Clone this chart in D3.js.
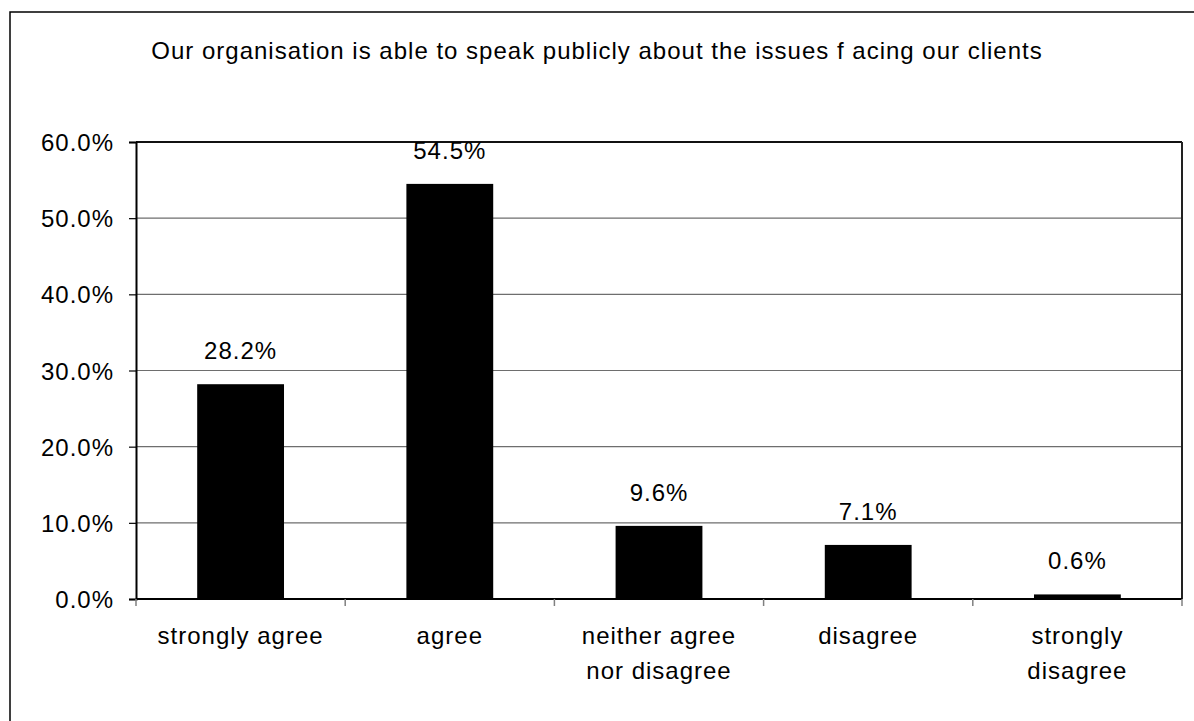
<!DOCTYPE html>
<html>
<head>
<meta charset="utf-8">
<script src="https://cdn.jsdelivr.net/npm/d3@7"></script>
<style>
  html, body { margin: 0; padding: 0; background: #fff; }
  svg { display: block; font-family: "Liberation Sans", Arial, sans-serif; }
  svg text { letter-spacing: 1px; }
</style>
</head>
<body>
<svg id="chart" width="1194" height="721"></svg>
<script>
const title = "Our organisation is able to speak publicly about the issues f acing our clients";
const categories = ["strongly agree", "agree", "neither agree nor disagree", "disagree", "strongly disagree"];
const categoryLines = [["strongly agree"], ["agree"], ["neither agree", "nor disagree"], ["disagree"], ["strongly", "disagree"]];
const values = [28.2, 54.5, 9.6, 7.1, 0.6];
const valueLabels = ["28.2%", "54.5%", "9.6%", "7.1%", "0.6%"];
const yTicks = [0, 10, 20, 30, 40, 50, 60];

const svg = d3.select("#chart");
const fs = 24;
const plot = { left: 136, right: 1182, top: 142, bottom: 599 };

// outer frame
svg.append("rect").attr("x", 10).attr("y", 12).attr("width", 1200).attr("height", 720)
  .attr("fill", "none").attr("stroke", "#000").attr("stroke-width", 1.5);

// title
svg.append("text").attr("x", 597).attr("y", 59).attr("text-anchor", "middle")
  .attr("font-size", fs).attr("fill", "#000").text(title);

const x = d3.scaleBand().domain(categories).range([plot.left, plot.right]).paddingInner(0.585).paddingOuter(0.2925);
const xCat = d3.scaleBand().domain(categories).range([plot.left, plot.right]);
const y = d3.scaleLinear().domain([0, 60]).range([plot.bottom, plot.top]);

// gridlines
svg.append("g").selectAll("line").data(yTicks.filter(d => d > 0 && d < 60)).join("line")
  .attr("x1", plot.left).attr("x2", plot.right)
  .attr("y1", d => y(d)).attr("y2", d => y(d))
  .attr("stroke", "#6e6e6e").attr("stroke-width", 1.2);

// plot border top and right
svg.append("line").attr("x1", plot.left).attr("x2", plot.right).attr("y1", plot.top).attr("y2", plot.top)
  .attr("stroke", "#111").attr("stroke-width", 2);
svg.append("line").attr("x1", plot.right).attr("x2", plot.right).attr("y1", plot.top).attr("y2", plot.bottom)
  .attr("stroke", "#222").attr("stroke-width", 2);

// bars
svg.append("g").selectAll("rect").data(values).join("rect")
  .attr("x", (d, i) => x(categories[i]))
  .attr("width", x.bandwidth())
  .attr("y", d => y(d))
  .attr("height", d => y(0) - y(d))
  .attr("fill", "#000");

// value labels
svg.append("g").selectAll("text").data(values).join("text")
  .attr("x", (d, i) => x(categories[i]) + x.bandwidth() / 2)
  .attr("y", d => y(d) - 25)
  .attr("text-anchor", "middle").attr("font-size", fs).attr("fill", "#000")
  .text((d, i) => valueLabels[i]);

// y axis
const yAxis = d3.axisLeft(y).tickValues(yTicks).tickFormat(d => d.toFixed(1) + "%").tickSize(7).tickPadding(15);
const gy = svg.append("g").attr("transform", `translate(${plot.left},0)`).call(yAxis);
gy.select(".domain").attr("stroke", "#000").attr("stroke-width", 2);
gy.selectAll(".tick line").attr("stroke", "#000").attr("stroke-width", 1.2);
gy.selectAll(".tick text").attr("font-size", fs).attr("font-family", "Liberation Sans, Arial, sans-serif")
  .attr("fill", "#000").attr("dy", "0.36em");

// x axis baseline and separators
svg.append("line").attr("x1", plot.left).attr("x2", plot.right).attr("y1", plot.bottom).attr("y2", plot.bottom)
  .attr("stroke", "#000").attr("stroke-width", 2);
const seps = categories.map(c => xCat(c)).concat([plot.right]);
svg.append("g").selectAll("line").data(seps).join("line")
  .attr("x1", d => d).attr("x2", d => d).attr("y1", plot.bottom).attr("y2", plot.bottom + 7)
  .attr("stroke", "#808080").attr("stroke-width", 1.5);

// category labels
const lab = svg.append("g").selectAll("text").data(categories).join("text")
  .attr("x", c => xCat(c) + xCat.bandwidth() / 2)
  .attr("y", 644)
  .attr("text-anchor", "middle").attr("font-size", fs).attr("fill", "#000");
lab.each(function(c, i) {
  const t = d3.select(this);
  categoryLines[i].forEach((ln, j) => {
    t.append("tspan").attr("x", xCat(c) + xCat.bandwidth() / 2).attr("dy", j === 0 ? 0 : 35).text(ln);
  });
});
</script>
</body>
</html>
